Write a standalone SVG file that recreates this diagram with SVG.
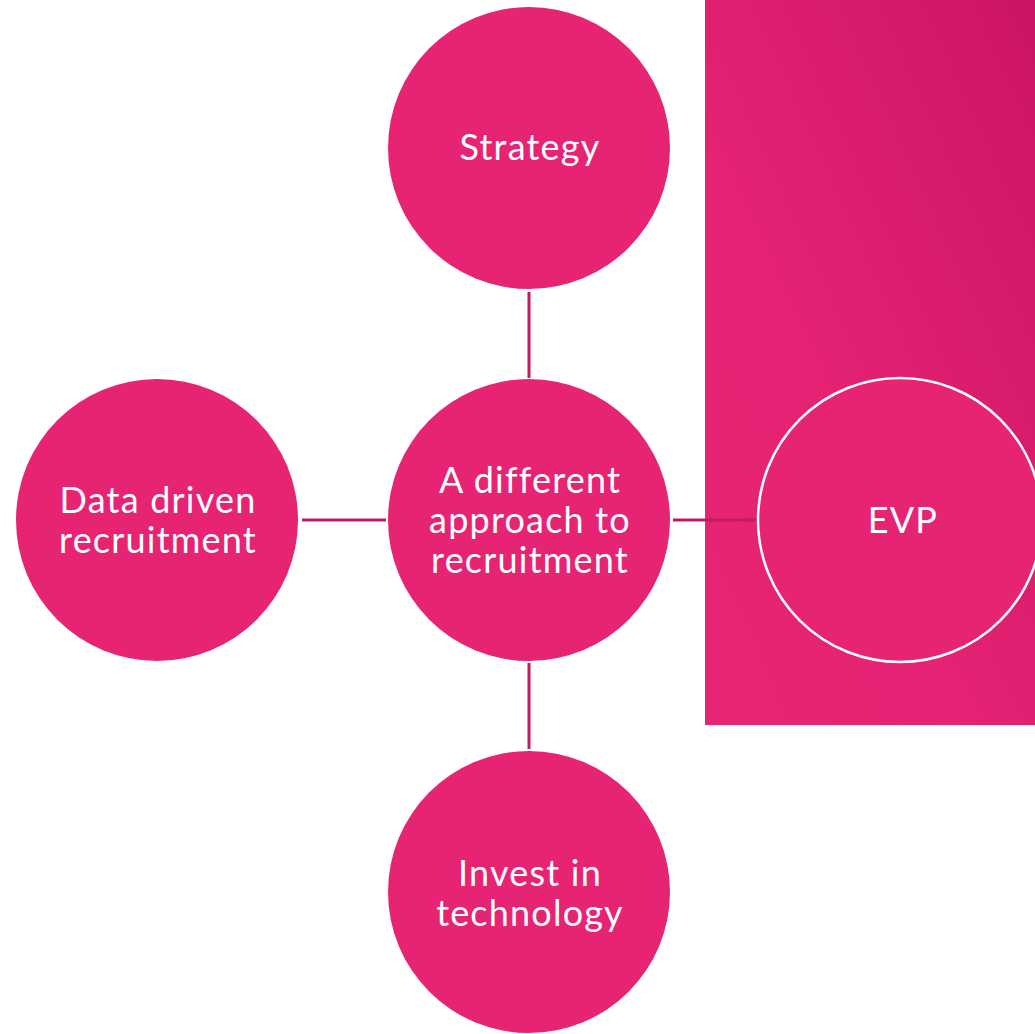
<svg xmlns="http://www.w3.org/2000/svg" width="1035" height="1034" viewBox="0 0 1035 1034">
<defs>
<linearGradient id="bg" x1="1" y1="0" x2="0" y2="1">
<stop offset="0" stop-color="#cc1463"/>
<stop offset="0.6" stop-color="#e52273"/>
<stop offset="1" stop-color="#e82474"/>
</linearGradient>
</defs>
<style>
.n{fill:#e62473}
.t{fill:#ffffff;font-family:Lato,"Liberation Sans",sans-serif;font-size:36px;letter-spacing:1.2px;text-anchor:middle}
.c{stroke:#c01a60;stroke-width:3;fill:none}
</style>
<rect width="1035" height="1034" fill="#ffffff"/>
<rect x="705" y="0" width="330" height="725" fill="url(#bg)"/>
<g id="connectors">
<line class="c" x1="529" y1="292" x2="529" y2="378"/>
<line class="c" x1="529" y1="663" x2="529" y2="749"/>
<line class="c" x1="302" y1="520" x2="386" y2="520"/>
<line class="c" x1="673" y1="520" x2="757" y2="520"/>
</g>
<g id="strategy"><circle class="n" cx="529" cy="148" r="141"/><text class="t" x="530" y="160">Strategy</text></g>
<g id="center"><circle class="n" cx="529" cy="520" r="141"/><text class="t" x="530" y="493">A different</text><text class="t" x="530" y="533">approach to</text><text class="t" x="530" y="573">recruitment</text></g>
<g id="data"><circle class="n" cx="157" cy="520" r="141"/><text class="t" x="158" y="513">Data driven</text><text class="t" x="158" y="553">recruitment</text></g>
<g id="invest"><circle class="n" cx="529" cy="892" r="141"/><text class="t" x="530" y="886">Invest in</text><text class="t" x="530" y="926">technology</text></g>
<g id="evp"><circle class="n" cx="900" cy="520" r="142" stroke="#ffffff" stroke-width="2.5"/><text class="t" x="903" y="533">EVP</text></g>
</svg>
